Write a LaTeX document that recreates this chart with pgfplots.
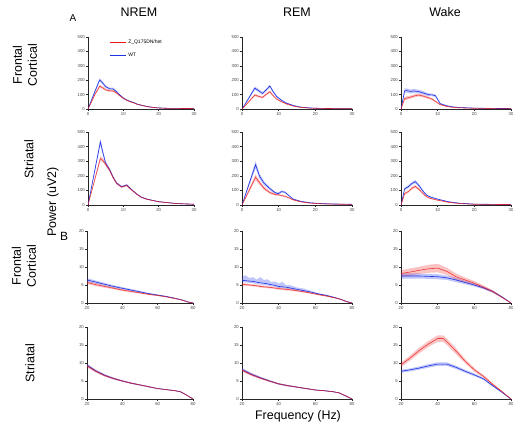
\documentclass[border=0pt]{standalone}
\usepackage{fontspec}
\setmainfont{Liberation Sans}
\usepackage{pgfplots}
\pgfplotsset{compat=1.18}
\usepackage{pgfplotstable}
\usepgfplotslibrary{fillbetween}

\definecolor{wtc}{RGB}{30,50,230}
\definecolor{hetc}{RGB}{235,20,20}

% f = frequency (Hz), wm/we = WT mean/SEM, hm/he = Z_Q175DN/het mean/SEM
\pgfplotstableread{
f wm we hm he
0 0 0 0 0
1 62 6 50 5
2 125 10 103 8
3.3 202 12 158 10
4 185 11 150 9
5 155 9 133 8
6.2 140 8 126 7
7.1 140 8 125 7
8 122 7 112 6
9 97 6 92 5
10 76 5 74 5
11 62 4 60 4
12 52 4 50 3
13 44 3 42 3
14 33 3 32 2
15.7 23 2 22 2
17 16 2 15 2
19.5 8 1 8 1
22 5 1 5 1
25 4 1 4 1
30 3 1 3 1
}\TA
\pgfplotstableread{
f wm we hm he
0 0 0 0 0
1 40 5 26 4
2 82 8 55 6
3.5 145 12 97 9
4.5 128 10 88 8
5.6 108 9 80 7
6.5 130 10 100 8
7.6 160 10 120 8
8.5 120 8 92 7
9.4 88 7 70 6
10.8 60 5 50 4
12 42 4 36 3
14 24 3 20 2
16 13 2 11 2
18.6 7 1 6 1
22 4 1 4 1
25 3 1 3 1
30 2 1 2 1
}\TB
\pgfplotstableread{
f wm we hm he
0 0 0 0 0
1 128 15 72 12
1.6 128 15 76 12
2.5 122 14 82 11
3.5 125 14 90 11
4.8 121 13 97 10
6 112 12 90 9
7.5 99 10 78 8
8.5 98 9 68 7
9.4 92 8 53 6
10.7 37 5 30 4
12.5 22 3 18 3
14 15 2 12 2
16 10 2 8 1
20 6 1 5 1
25 4 1 3 1
30 3 1 3 1
}\TC
\pgfplotstableread{
f wm we hm he
0 0 0 0 0
1 123 6 91 5
2 247 12 182 9
3.5 432 22 318 16
4.2 360 18 305 14
5 285 14 280 13
6.2 239 11 235 11
7 195 9 192 9
8.1 150 7 148 7
9.5 125 6 123 6
11 137 6 134 6
11.9 115 5 112 5
13.8 75 4 74 4
15 55 3 54 3
16.7 40 3 39 3
20 23 2 22 2
25 10 1 10 1
30 5 1 5 1
}\TD
\pgfplotstableread{
f wm we hm he
0 0 0 0 0
1 75 8 51 6
2 150 15 103 12
3.7 276 25 190 20
4.8 197 18 152 15
6 150 14 115 12
7.6 112 10 85 9
9 85 8 72 7
9.9 78 7 70 6
10.8 92 7 64 6
11.7 88 6 60 5
12.5 70 5 52 5
14 40 4 35 4
16 25 3 22 3
18.6 15 2 13 2
22 9 1 8 1
25 7 1 6 1
30 5 1 4 1
}\TE
\pgfplotstableread{
f wm we hm he
0 0 0 0 0
1 111 10 78 8
2 125 10 92 8
3 148 11 115 9
3.9 160 11 127 10
5 130 9 105 8
6 95 7 78 6
7 67 5 56 5
8 55 4 45 4
10 40 3 33 3
13 22 2 18 2
16 12 1 10 1
20 6 1 5 1
30 3 1 3 1
}\TF
\pgfplotstableread{
f wm we hm he
20 6.4 0.5 5.7 0.4
25 5.8 0.45 5.1 0.4
30 5.2 0.4 4.6 0.35
35 4.6 0.35 4.1 0.3
40 4.1 0.3 3.6 0.3
45 3.6 0.3 3.2 0.25
50 3.1 0.25 2.8 0.2
55 2.6 0.2 2.4 0.2
60 2.2 0.2 2.1 0.15
65 1.8 0.15 1.7 0.15
70 1.3 0.1 1.2 0.1
74 0.8 0.1 0.8 0.1
77 0.3 0.1 0.3 0.1
80 0 0.1 0 0.1
}\TG
% wu = upper (noisy) SEM edge of WT
\pgfplotstableread{
f wm we wu hm he
20 6.3 0.5 1.0 5.2 0.3
22 6.2 0.5 1.5 5.1 0.3
24 6.1 0.5 0.8 5.0 0.3
26 6.0 0.5 1.2 4.9 0.3
28 5.8 0.5 0.7 4.8 0.3
30 5.6 0.5 1.6 4.6 0.3
32 5.5 0.45 0.9 4.5 0.3
34 5.3 0.45 1.3 4.4 0.3
36 5.1 0.4 0.7 4.3 0.3
38 4.9 0.4 1.1 4.15 0.3
40 4.6 0.4 0.8 4.0 0.3
42 4.5 0.4 1.4 3.9 0.3
44 4.4 0.35 0.6 3.8 0.3
46 4.2 0.35 0.8 3.7 0.3
50 3.8 0.3 0.5 3.4 0.25
54 3.4 0.3 0.6 3.1 0.25
58 3.0 0.25 0.3 2.7 0.2
62 2.5 0.2 0.2 2.3 0.2
66 2.1 0.2 0.2 1.95 0.2
70 1.6 0.15 0.15 1.5 0.15
74 1.0 0.1 0.1 1.0 0.1
77 0.4 0.1 0.1 0.4 0.1
80 0 0.1 0.1 0 0.1
}\TH
\pgfplotstableread{
f wm we hm he
20 7.5 0.7 8.2 0.9
25 7.5 0.7 8.6 1.0
30 7.5 0.7 9.1 1.0
35 7.4 0.7 9.5 1.1
40 7.3 0.7 9.7 1.2
45 7.0 0.6 8.8 1.0
50 6.4 0.6 7.3 0.9
55 5.7 0.5 6.4 0.7
60 5.0 0.4 5.5 0.6
65 4.2 0.35 4.4 0.5
70 3.2 0.3 3.2 0.4
75 1.7 0.2 1.6 0.2
80 0 0.1 0 0.1
}\TI
\pgfplotstableread{
f wm we hm he
20 9.4 0.4 9.2 0.4
25 7.8 0.35 7.7 0.35
30 6.6 0.3 6.5 0.3
35 5.7 0.25 5.7 0.25
40 5.0 0.2 5.0 0.2
45 4.4 0.2 4.4 0.2
50 3.9 0.15 3.9 0.15
55 3.4 0.15 3.4 0.15
60 2.9 0.1 2.9 0.1
65 2.6 0.1 2.6 0.1
70 2.3 0.1 2.3 0.1
73 2.0 0.1 2.0 0.1
76 1.2 0.1 1.2 0.1
80 0 0.1 0 0.1
}\TJ
\pgfplotstableread{
f wm we hm he
20 8.2 0.4 8.0 0.4
25 6.9 0.35 6.8 0.35
30 5.9 0.3 5.8 0.3
35 5.0 0.25 5.0 0.25
40 4.2 0.2 4.2 0.2
45 3.7 0.2 3.7 0.2
50 3.3 0.15 3.3 0.15
55 2.9 0.15 2.9 0.15
60 2.5 0.1 2.5 0.1
65 2.3 0.1 2.3 0.1
70 2.0 0.1 2.0 0.1
73 1.7 0.1 1.7 0.1
76 1.0 0.1 1.0 0.1
80 0 0.1 0 0.1
}\TK
\pgfplotstableread{
f wm we hm he
20 7.7 0.4 9.5 0.6
25 8.1 0.4 11.4 0.7
30 8.6 0.45 13.5 0.8
35 9.2 0.5 15.3 0.8
40 9.7 0.5 16.8 0.9
43 9.7 0.5 16.8 0.9
45 9.7 0.5 15.9 0.9
50 8.8 0.45 13.3 0.8
55 7.7 0.4 10.5 0.6
60 6.7 0.35 8.1 0.5
65 5.6 0.3 6.3 0.4
70 3.7 0.25 4.1 0.3
75 1.9 0.15 2.1 0.2
80 0 0.1 0 0.1
}\TL

\pgfplotsset{
 panel/.style={scale only axis, axis lines=left,
   axis line style={-, line width=0.7bp, black!85},
   tick style={line width=0.5bp, black!85}, tick align=outside,
   major tick length=2bp, enlargelimits=false,
   ticklabel style={font=\fontsize{4.3}{4.3}\selectfont, text=black!75, inner sep=1bp},
   /pgf/number format/assume math mode=true},
 pA/.style={panel, xmin=0,xmax=30,ymin=0,ymax=500, xtick={0,10,20,30}, ytick={0,100,200,300,400,500}},
 pB/.style={panel, xmin=20,xmax=80,ymin=0,ymax=20, xtick={20,40,60,80}, ytick={0,5,10,15,20}},
}

\newcommand\bands[1]{%
 \addplot[draw=none, name path=wu, forget plot] table[x=f, y expr=\thisrow{wm}+\thisrow{we}] {#1};
 \addplot[draw=none, name path=wl, forget plot] table[x=f, y expr=\thisrow{wm}-\thisrow{we}] {#1};
 \addplot[fill=wtc, fill opacity=0.28, draw=none, forget plot] fill between[of=wu and wl];
 \addplot[draw=none, name path=hu, forget plot] table[x=f, y expr=\thisrow{hm}+\thisrow{he}] {#1};
 \addplot[draw=none, name path=hl, forget plot] table[x=f, y expr=\thisrow{hm}-\thisrow{he}] {#1};
 \addplot[fill=hetc, fill opacity=0.25, draw=none, forget plot] fill between[of=hu and hl];
 \addplot[wtc, line width=0.6bp, forget plot] table[x=f, y=wm] {#1};
 \addplot[hetc, line width=0.6bp, opacity=0.8, forget plot] table[x=f, y=hm] {#1};
}

\begin{document}
\begin{tikzpicture}[x=1bp,y=1bp]

% Row 1
\begin{axis}[pA, at={(88bp,319bp)}, anchor=south west, width=106bp, height=72bp,
  legend style={at={(0.2,0.99)}, anchor=north west, draw=none, fill=none,
    font=\fontsize{5}{5}\selectfont, inner sep=0pt, row sep=4bp, cells={anchor=west}},
  legend image code/.code={\draw[#1] (0bp,0bp) -- (16bp,0bp);}]
\bands{\TA}
\addlegendimage{hetc, line width=0.9bp}\addlegendentry{Z\_Q175DN/het}
\addlegendimage{wtc, line width=0.9bp}\addlegendentry{WT}
\end{axis}
\begin{axis}[pA, at={(242bp,319bp)}, anchor=south west, width=110bp, height=72bp]
\bands{\TB}
\end{axis}
\begin{axis}[pA, at={(401bp,319bp)}, anchor=south west, width=110bp, height=72bp]
\bands{\TC}
\end{axis}

% Row 2
\begin{axis}[pA, at={(88bp,223bp)}, anchor=south west, width=106bp, height=73bp]
\bands{\TD}
\end{axis}
\begin{axis}[pA, at={(242bp,223bp)}, anchor=south west, width=110bp, height=73bp]
\bands{\TE}
\end{axis}
\begin{axis}[pA, at={(401bp,223bp)}, anchor=south west, width=110bp, height=73bp]
\bands{\TF}
\end{axis}

% Row 3
\begin{axis}[pB, at={(87bp,125bp)}, anchor=south west, width=106bp, height=72bp]
\bands{\TG}
\end{axis}
\begin{axis}[pB, at={(242bp,125bp)}, anchor=south west, width=110bp, height=72bp]
 \addplot[draw=none, name path=wu, forget plot] table[x=f, y expr=\thisrow{wm}+\thisrow{wu}] {\TH};
 \addplot[draw=none, name path=wl, forget plot] table[x=f, y expr=\thisrow{wm}-\thisrow{we}] {\TH};
 \addplot[fill=wtc, fill opacity=0.28, draw=none, forget plot] fill between[of=wu and wl];
 \addplot[draw=none, name path=hu, forget plot] table[x=f, y expr=\thisrow{hm}+\thisrow{he}] {\TH};
 \addplot[draw=none, name path=hl, forget plot] table[x=f, y expr=\thisrow{hm}-\thisrow{he}] {\TH};
 \addplot[fill=hetc, fill opacity=0.25, draw=none, forget plot] fill between[of=hu and hl];
 \addplot[wtc, line width=0.6bp, forget plot] table[x=f, y=wm] {\TH};
 \addplot[hetc, line width=0.6bp, opacity=0.8, forget plot] table[x=f, y=hm] {\TH};
\end{axis}
\begin{axis}[pB, at={(401bp,125bp)}, anchor=south west, width=110bp, height=72bp]
\bands{\TI}
\end{axis}

% Row 4
\begin{axis}[pB, at={(87bp,29bp)}, anchor=south west, width=106bp, height=72bp]
\bands{\TJ}
\end{axis}
\begin{axis}[pB, at={(242bp,29bp)}, anchor=south west, width=110bp, height=72bp]
\bands{\TK}
\end{axis}
\begin{axis}[pB, at={(401bp,29bp)}, anchor=south west, width=110bp, height=72bp]
\bands{\TL}
\end{axis}

% Texts
\node[font=\fontsize{12.5}{13}\selectfont] at (139,416) {NREM};
\node[font=\fontsize{12.5}{13}\selectfont] at (297,416) {REM};
\node[font=\fontsize{12.5}{13}\selectfont] at (445,416) {Wake};
\node[font=\fontsize{10}{10}\selectfont] at (73,410) {A};
\node[font=\fontsize{12}{12}\selectfont] at (64,192) {B};
\node[font=\fontsize{12.5}{15}\selectfont, rotate=90, align=center] at (25,363) {Frontal\\Cortical};
\node[font=\fontsize{12.5}{15}\selectfont, rotate=90] at (29,269) {Striatal};
\node[font=\fontsize{12.5}{15}\selectfont, rotate=90, align=center] at (24,162) {Frontal\\Cortical};
\node[font=\fontsize{12.5}{15}\selectfont, rotate=90] at (30,65) {Striatal};
\node[font=\fontsize{12.5}{13}\selectfont, rotate=90] at (53,226) {Power (uV2)};
\node[font=\fontsize{12.5}{13}\selectfont] at (298,12) {Frequency (Hz)};

\pgfresetboundingbox
\path[use as bounding box] (0,0) rectangle (513,428);
\end{tikzpicture}
\end{document}
